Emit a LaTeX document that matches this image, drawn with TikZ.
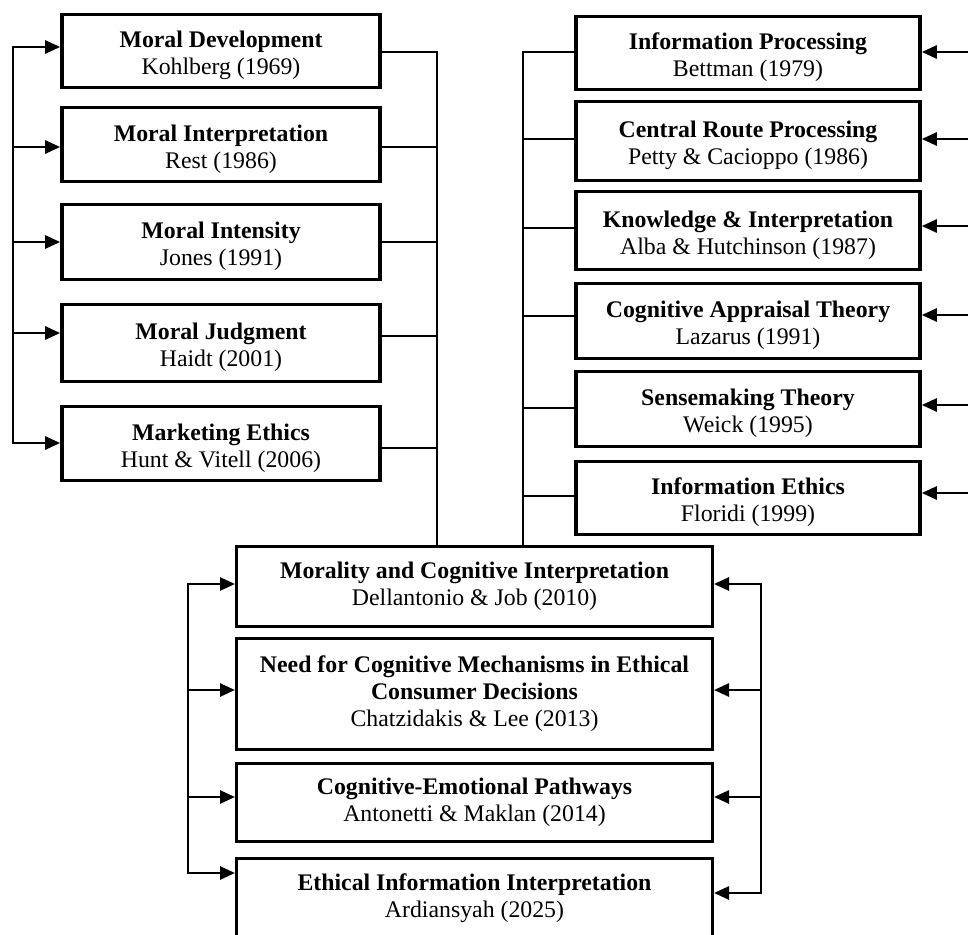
\documentclass[tikz,border=0pt]{standalone}
\usepackage{fontspec}
\setmainfont{Liberation Serif}
\usetikzlibrary{arrows.meta}
\newcommand{\toppad}{\rule{0pt}{26pt}}
\begin{document}
\begin{tikzpicture}[x=1pt,y=-1pt,
  boxtext/.style={align=center, inner sep=0pt, font=\fontsize{23.8}{27}\selectfont},
  topbox/.style={boxtext, draw, line width=3.6pt},
  lbox/.style={topbox, minimum width=318pt},
  rbox/.style={topbox, minimum width=344pt},
  botbox/.style={boxtext, draw, line width=3pt, minimum width=476pt},
  conn/.style={line width=2.6pt, line cap=rect},
  arr/.style={line width=2.6pt, -{Triangle[length=15pt,width=13pt]}},
]
\useasboundingbox (0,0) rectangle (968,934);
\fill[white] (0,0) rectangle (968,934);
\clip (0,0) rectangle (968,934);

% left column
\node[lbox, minimum height=73pt] (L1) at (221,51) {\toppad\textbf{Moral Development}\\Kohlberg (1969)};
\node[lbox, minimum height=74pt] (L2) at (221,144.5) {\toppad\textbf{Moral Interpretation}\\Rest (1986)};
\node[lbox, minimum height=75pt] (L3) at (221,242) {\toppad\textbf{Moral Intensity}\\Jones (1991)};
\node[lbox, minimum height=77pt] (L4) at (221,343) {\toppad\textbf{Moral Judgment}\\Haidt (2001)};
\node[lbox, minimum height=74pt] (L5) at (221,443.5) {\toppad\textbf{Marketing Ethics}\\Hunt \& Vitell (2006)};

% right column
\node[rbox, minimum height=73pt] (R1) at (748,53) {\toppad\textbf{Information Processing}\\Bettman (1979)};
\node[rbox, minimum height=79pt] (R2) at (748,141) {\toppad\textbf{Central Route Processing}\\Petty \& Cacioppo (1986)};
\node[rbox, minimum height=78pt] (R3) at (748,230.5) {\toppad\textbf{Knowledge \& Interpretation}\\Alba \& Hutchinson (1987)};
\node[rbox, minimum height=75pt] (R4) at (748,321) {\toppad\textbf{Cognitive Appraisal Theory}\\Lazarus (1991)};
\node[rbox, minimum height=75pt] (R5) at (748,409) {\toppad\textbf{Sensemaking Theory}\\Weick (1995)};
\node[rbox, minimum height=73pt] (R6) at (748,498) {\toppad\textbf{Information Ethics}\\Floridi (1999)};

% bottom column
\node[botbox, minimum height=80pt] (B1) at (474.5,586.5) {\textbf{Morality and Cognitive Interpretation}\\Dellantonio \& Job (2010)};
\node[botbox, minimum height=111pt] (B2) at (474.5,694) {\textbf{Need for Cognitive Mechanisms in Ethical}\\\textbf{Consumer Decisions}\\Chatzidakis \& Lee (2013)};
\node[botbox, minimum height=78pt] (B3) at (474.5,802.5) {\textbf{Cognitive-Emotional Pathways}\\Antonetti \& Maklan (2014)};
\node[botbox, minimum height=80pt] (B4) at (474.5,898.5) {\textbf{Ethical Information Interpretation}\\Ardiansyah (2025)};

% left feedback arrows
\coordinate (la1) at (13,47);
\coordinate (la2) at (13,147);
\coordinate (la3) at (13,242);
\coordinate (la4) at (13,333);
\coordinate (la5) at (13,443);
\draw[conn] (la1) -- (la5);
\foreach \i in {1,...,5} \draw[arr] (la\i) -- (la\i -| L\i.west);

% left boxes to bottom
\coordinate (lr1) at (437,52);
\coordinate (lr2) at (437,147);
\coordinate (lr3) at (437,242);
\coordinate (lr4) at (437,336);
\coordinate (lr5) at (437,448);
\foreach \i in {1,...,5} \draw[conn] (lr\i -| L\i.east) -- (lr\i);
\draw[conn] (lr1) -- (lr1 |- B1.north);

% right boxes to bottom
\coordinate (rl1) at (523,52);
\coordinate (rl2) at (523,139);
\coordinate (rl3) at (523,228);
\coordinate (rl4) at (523,316);
\coordinate (rl5) at (523,408);
\coordinate (rl6) at (523,496);
\foreach \i in {1,...,6} \draw[conn] (rl\i) -- (rl\i -| R\i.west);
\draw[conn] (rl1) -- (rl1 |- B1.north);

% right incoming arrows
\coordinate (ra1) at (975,52);
\coordinate (ra2) at (975,139);
\coordinate (ra3) at (975,226);
\coordinate (ra4) at (975,315);
\coordinate (ra5) at (975,405);
\coordinate (ra6) at (975,493);
\foreach \i in {1,...,6} \draw[arr] (ra\i) -- (ra\i -| R\i.east);

% bottom left arrows
\coordinate (bl1) at (188,584);
\coordinate (bl2) at (188,690);
\coordinate (bl3) at (188,797);
\coordinate (bl4) at (188,873);
\draw[conn] (bl1) -- (bl4);
\foreach \i in {1,...,4} \draw[arr] (bl\i) -- (bl\i -| B\i.west);

% bottom right arrows
\coordinate (br1) at (761,584);
\coordinate (br2) at (761,690);
\coordinate (br3) at (761,797);
\coordinate (br4) at (761,893);
\draw[conn] (br1) -- (br4);
\foreach \i in {1,...,4} \draw[arr] (br\i) -- (br\i -| B\i.east);
\end{tikzpicture}
\end{document}
